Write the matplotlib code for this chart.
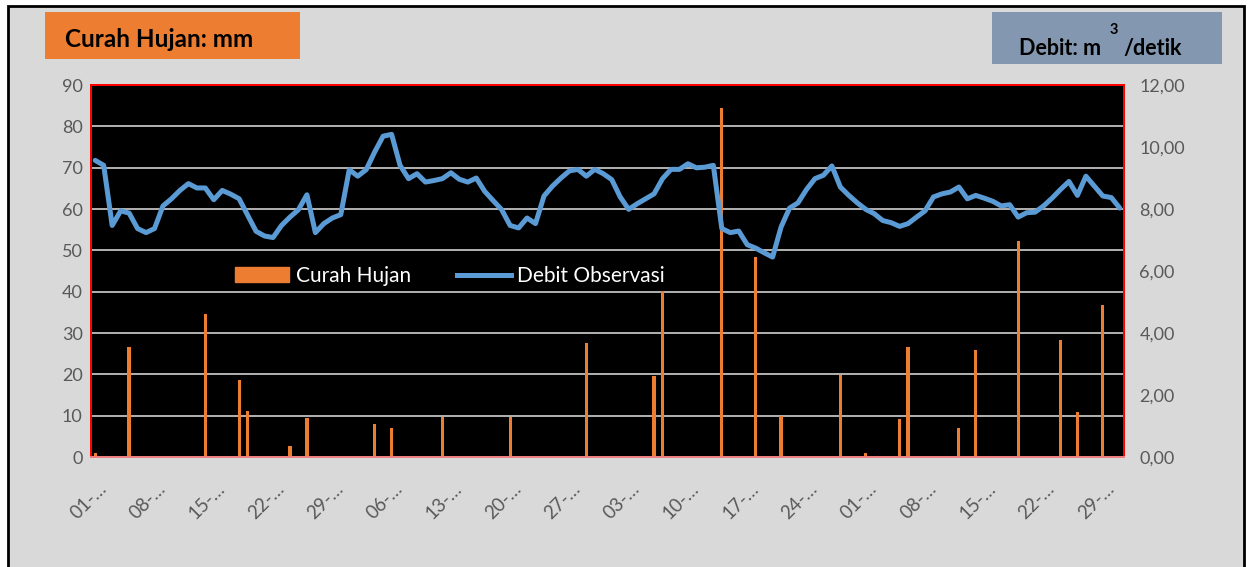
import numpy as np
import matplotlib.pyplot as plt
from matplotlib.patches import Rectangle
from matplotlib.lines import Line2D
from matplotlib.transforms import ScaledTranslation

plt.rcParams['font.family'] = ['Lato', 'DejaVu Sans']

# observed discharge, one value per day (m3/detik)
debit = [
    9.57, 9.41, 7.47, 7.94, 7.87, 7.37, 7.24, 7.37, 8.10, 8.33,
    8.60, 8.82, 8.68, 8.68, 8.30, 8.60, 8.48, 8.33, 7.80, 7.28,
    7.13, 7.08, 7.47, 7.74, 7.98, 8.46, 7.24, 7.53, 7.71, 7.82,
    9.27, 9.06, 9.27, 9.84, 10.35, 10.41, 9.41, 8.98, 9.14, 8.87,
    8.92, 8.98, 9.17, 8.96, 8.87, 9.00, 8.57, 8.27, 7.98, 7.47,
    7.39, 7.71, 7.53, 8.42, 8.74, 9.00, 9.23, 9.28, 9.06, 9.28,
    9.14, 8.95, 8.39, 7.99, 8.17, 8.33, 8.49, 8.98, 9.28, 9.28,
    9.46, 9.33, 9.35, 9.41, 7.37, 7.24, 7.29, 6.85, 6.74, 6.59,
    6.45, 7.42, 8.03, 8.20, 8.63, 8.98, 9.09, 9.39, 8.71, 8.44,
    8.20, 7.99, 7.85, 7.63, 7.56, 7.44, 7.53, 7.74, 7.94, 8.39,
    8.49, 8.55, 8.71, 8.33, 8.44, 8.35, 8.25, 8.10, 8.14, 7.74,
    7.88, 7.90, 8.10, 8.35, 8.63, 8.89, 8.44, 9.06, 8.74, 8.42,
    8.37, 8.03,
]

# rainy days (index of day) and rainfall (mm); other days are dry
rain_day = [0, 4, 13, 17, 18, 23, 25, 33, 35, 41, 49, 58, 66, 67,
            74, 78, 81, 88, 91, 95, 96, 102, 104, 109, 114, 116, 119]
rain_mm = [1.0, 26.7, 34.6, 18.6, 11.1, 2.7, 9.4, 8.1, 7.1, 9.6, 9.6, 27.7, 19.6, 45.0,
           84.5, 48.5, 9.9, 19.8, 0.9, 9.2, 26.7, 7.1, 25.8, 52.3, 28.3, 11.0, 36.8]

tick_labels = ["01-…", "08-…", "15-…", "22-…", "29-…", "06-…", "13-…", "20-…", "27-…",
               "03-…", "10-…", "17-…", "24-…", "01-…", "08-…", "15-…", "22-…", "29-…"]

n_days = len(debit)
x = np.arange(n_days)
rain = np.zeros(n_days)
rain[rain_day] = rain_mm

orange = '#ED7D31'
blue = '#5B9BD5'
grey_txt = '#595959'

fig = plt.figure(figsize=(12.5, 5.67), dpi=100, facecolor='white')
fig.patches.append(Rectangle((0.0064, -0.02), 0.9888, 1.0094, transform=fig.transFigure,
                             facecolor='#D9D9D9', edgecolor='black', lw=2, zorder=-10))

ax = fig.add_axes([0.0728, 0.194, 0.8264, 0.656])
ax.set_facecolor('black')
ax.bar(x, rain, width=0.38, color=orange, zorder=2)
ax.set_xlim(-0.5, n_days - 0.5)
ax.set_ylim(0, 90)
ax.set_yticks(range(0, 91, 10))
ax.grid(axis='y', color='#D0D0D0', lw=1.2)
ax.set_axisbelow(True)

ax2 = ax.twinx()
ax2.plot(x, debit, color=blue, lw=3.6, solid_joinstyle='round', solid_capstyle='round')
ax2.set_ylim(0, 12)
ax2.set_yticks(np.arange(0, 13, 2))
ax2.set_yticklabels([f'{v:.2f}'.replace('.', ',') for v in np.arange(0, 13, 2)])

for a in (ax, ax2):
    for side in ('left', 'right', 'top'):
        a.spines[side].set_color('red')
        a.spines[side].set_linewidth(1.4)
    a.spines['bottom'].set_color('#F08080')
    a.spines['bottom'].set_linewidth(1.4)

ax.tick_params(axis='y', length=0, labelsize=13, labelcolor=grey_txt, pad=6)
ax2.tick_params(axis='y', length=0, labelsize=13, labelcolor=grey_txt, pad=11)

ax.set_xticks(range(0, n_days, 7))
ax.set_xticklabels(tick_labels, rotation=45, ha='right', va='center', rotation_mode='anchor')
ax.tick_params(axis='x', length=0, labelsize=13.5, labelcolor=grey_txt, pad=21)
shift = ScaledTranslation(6 / 72, 0, fig.dpi_scale_trans)
for lbl in ax.get_xticklabels():
    lbl.set_transform(lbl.get_transform() + shift)

handles = [Rectangle((0, 0), 1, 1, color=orange), Line2D([], [], color=blue, lw=3.6)]
leg = ax2.legend(handles, ['Curah Hujan', 'Debit Observasi'], ncol=2, loc='center',
                 bbox_to_anchor=(0.3475, 0.4866), frameon=True, facecolor='black',
                 edgecolor='none', framealpha=1, fontsize=15, labelcolor='white',
                 handlelength=2.6, handleheight=0.7, columnspacing=2.2,
                 handletextpad=0.3, borderpad=0.25)

# unit boxes above the plot
fig.patches.append(Rectangle((0.036, 0.8959), 0.204, 0.0829, transform=fig.transFigure,
                             facecolor=orange, edgecolor='none'))
fig.text(0.052, 0.917, 'Curah Hujan: mm', fontsize=17.5, fontweight='bold', color='black',
         va='baseline')

fig.patches.append(Rectangle((0.7936, 0.888), 0.184, 0.09, transform=fig.transFigure,
                             facecolor='#8497B0', edgecolor='none'))
fig.text(0.8152, 0.903, 'Debit: m', fontsize=15.5, fontweight='bold', color='black',
         va='baseline')
fig.text(0.8985, 0.903, '/detik', fontsize=15.5, fontweight='bold', color='black',
         va='baseline')
fig.text(0.8912, 0.94, '3', fontsize=10.5, fontweight='bold', color='black',
         ha='center', va='baseline')

fig.savefig('out.png', dpi=100, facecolor=fig.get_facecolor())
plt.close(fig)
